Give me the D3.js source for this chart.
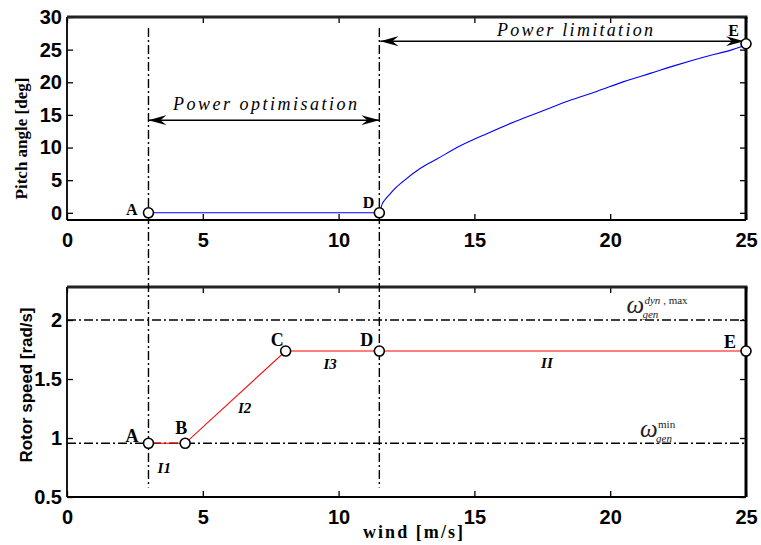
<!DOCTYPE html>
<html>
<head>
<meta charset="utf-8">
<script src="https://cdn.jsdelivr.net/npm/d3@7"></script>
<style>
  body { margin: 0; background: #fff; }
  .tick text { font-family: "Liberation Sans", Arial, sans-serif; font-weight: bold; font-size: 20px; fill: #000; }
</style>
</head>
<body>
<div id="chart"></div>
<script>
// ---- data ----
const windTicks = [0, 5, 10, 15, 20, 25];
const pitchTicks = [0, 5, 10, 15, 20, 25, 30];
const rotorTicks = [0.5, 1, 1.5, 2];

const pitchWind = [3, 11.5, 11.6, 11.75, 11.9, 12.0, 12.4, 13, 13.6, 14.5, 15.5, 16.5, 17.5, 18.5, 19.5, 20.5, 21.5, 22.5, 23.5, 24.5, 25];
const pitchAngle = [0, 0, 1.3, 2.2, 2.9, 3.4, 4.9, 6.8, 8.2, 10.3, 12.2, 14.0, 15.6, 17.2, 18.6, 20.1, 21.4, 22.7, 23.9, 25.0, 25.7];

const rotorWind = [3, 4.35, 8.05, 11.5, 25];
const rotorSpeed = [0.955, 0.955, 1.737, 1.737, 1.737];

const pitchPointNames = ["A", "D", "E"];
const pitchPointWind = [3, 11.5, 25];
const pitchPointValue = [0, 0, 25.9];

const rotorPointNames = ["A", "B", "C", "D", "E"];

const omegaMin = 0.955;
const omegaMax = 2.0;
const modeBounds = [3, 11.5];

const regionNames = ["I1", "I2", "I3", "II"];
const regionWind = [3.58, 6.54, 9.69, 17.67];
const regionValue = [0.70, 1.216, 1.585, 1.597];

// ---- layout ----
const width = 761, height = 545;
const left = 67, right = 746;
const top1 = 17, bottom1 = 220;
const top2 = 287, bottom2 = 497;

const svg = d3.select("#chart").append("svg")
  .attr("width", width)
  .attr("height", height)
  .style("background", "#fff");

const defs = svg.append("defs");
defs.append("marker")
  .attr("id", "arrow")
  .attr("viewBox", "0 0 18 10")
  .attr("refX", 18).attr("refY", 5)
  .attr("markerWidth", 18).attr("markerHeight", 10)
  .attr("markerUnits", "userSpaceOnUse")
  .attr("orient", "auto-start-reverse")
  .append("path")
  .attr("d", "M0,0 L18,5 L0,10 L6,5 Z")
  .attr("fill", "#000");

const x = d3.scaleLinear().domain([0, 25]).range([left, right]);
const yPitch = d3.scaleLinear().domain([-1.1, 30]).range([bottom1, top1]);
const yRotor = d3.scaleLinear().domain([0.5, 2.28]).range([bottom2, top2]);

function panel(y, yTicks, top, bottom) {
  const g = svg.append("g");
  // ticks point inward on all four sides, labels only bottom and left
  g.append("g")
    .attr("transform", `translate(0,${bottom})`)
    .call(d3.axisBottom(x).tickValues(windTicks).tickSize(-6).tickPadding(13))
    .call((s) => s.select(".domain").remove());
  g.append("g")
    .attr("transform", `translate(0,${top})`)
    .call(d3.axisTop(x).tickValues(windTicks).tickSize(-6).tickFormat(""))
    .call((s) => s.select(".domain").remove());
  g.append("g")
    .attr("transform", `translate(${left},0)`)
    .call(d3.axisLeft(y).tickValues(yTicks).tickSize(-6).tickPadding(5).tickFormat(d3.format("~g")))
    .call((s) => s.select(".domain").remove());
  g.append("g")
    .attr("transform", `translate(${right},0)`)
    .call(d3.axisRight(y).tickValues(yTicks).tickSize(-6).tickFormat(""))
    .call((s) => s.select(".domain").remove());
  g.selectAll(".tick line").attr("stroke", "#000").attr("stroke-width", 1.3);

  // frame
  g.append("line").attr("x1", left).attr("x2", left).attr("y1", top).attr("y2", bottom)
    .attr("stroke", "#000").attr("stroke-width", 1.8);
  g.append("line").attr("x1", left).attr("x2", right).attr("y1", bottom).attr("y2", bottom)
    .attr("stroke", "#000").attr("stroke-width", 1.8);
  g.append("line").attr("x1", left).attr("x2", right + 1.5).attr("y1", top).attr("y2", top)
    .attr("stroke", "#222").attr("stroke-width", 3.2);
  g.append("line").attr("x1", right).attr("x2", right).attr("y1", top).attr("y2", bottom)
    .attr("stroke", "#000").attr("stroke-width", 3);
  return g;
}

panel(yPitch, pitchTicks, top1, bottom1);
panel(yRotor, rotorTicks, top2, bottom2);

const dashDot = "9,3,2,3";

// reference lines
svg.selectAll("line.bound")
  .data(modeBounds)
  .join("line")
  .attr("class", "bound")
  .attr("x1", (d) => x(d)).attr("x2", (d) => x(d))
  .attr("y1", yPitch(28.3)).attr("y2", yRotor(0.58))
  .attr("stroke", "#000").attr("stroke-width", 1.4)
  .attr("stroke-dasharray", dashDot);

svg.selectAll("line.limit")
  .data([omegaMin, omegaMax])
  .join("line")
  .attr("class", "limit")
  .attr("x1", left).attr("x2", right)
  .attr("y1", (d) => yRotor(d)).attr("y2", (d) => yRotor(d))
  .attr("stroke", "#000").attr("stroke-width", 1.4)
  .attr("stroke-dasharray", dashDot);

// curves
const pitchData = pitchWind.map((w, i) => ({ wind: w, value: pitchAngle[i] }));
svg.append("path")
  .datum(pitchData)
  .attr("fill", "none")
  .attr("stroke", "#0000ff")
  .attr("stroke-width", 1.1)
  .attr("d", d3.line().x((d) => x(d.wind)).y((d) => yPitch(d.value)).curve(d3.curveMonotoneX));

const rotorData = rotorWind.map((w, i) => ({ wind: w, value: rotorSpeed[i], name: rotorPointNames[i] }));
svg.append("path")
  .datum(rotorData)
  .attr("fill", "none")
  .attr("stroke", "#ff0000")
  .attr("stroke-width", 1.1)
  .attr("d", d3.line().x((d) => x(d.wind)).y((d) => yRotor(d.value)));

// arrows
const arrowY1 = yPitch(14.2);
svg.append("line")
  .attr("x1", x(modeBounds[0])).attr("x2", x(modeBounds[1]))
  .attr("y1", arrowY1).attr("y2", arrowY1)
  .attr("stroke", "#000").attr("stroke-width", 1.5)
  .attr("marker-start", "url(#arrow)").attr("marker-end", "url(#arrow)");
svg.append("text")
  .attr("x", (x(modeBounds[0]) + x(modeBounds[1])) / 2 + 1)
  .attr("y", arrowY1 - 10)
  .attr("text-anchor", "middle")
  .attr("font-family", "Liberation Serif, Times New Roman, serif")
  .attr("font-style", "italic")
  .attr("font-size", "18px")
  .attr("textLength", 184)
  .attr("lengthAdjust", "spacing")
  .text("Power optimisation");

const arrowY2 = yPitch(26.3);
svg.append("line")
  .attr("x1", x(modeBounds[1]) + 1).attr("x2", x(25) - 2)
  .attr("y1", arrowY2).attr("y2", arrowY2)
  .attr("stroke", "#000").attr("stroke-width", 1.5)
  .attr("marker-start", "url(#arrow)").attr("marker-end", "url(#arrow)");
svg.append("text")
  .attr("x", 575)
  .attr("y", arrowY2 - 5)
  .attr("text-anchor", "middle")
  .attr("font-family", "Liberation Serif, Times New Roman, serif")
  .attr("font-style", "italic")
  .attr("font-size", "18px")
  .attr("textLength", 156)
  .attr("lengthAdjust", "spacing")
  .text("Power limitation");

// points
const pitchPoints = pitchPointNames.map((n, i) => ({ name: n, wind: pitchPointWind[i], value: pitchPointValue[i] }));
svg.selectAll("circle.pitch")
  .data(pitchPoints)
  .join("circle")
  .attr("class", "pitch")
  .attr("cx", (d) => x(d.wind)).attr("cy", (d) => yPitch(d.value))
  .attr("r", 5).attr("fill", "#fff").attr("stroke", "#000").attr("stroke-width", 1.6);

svg.selectAll("circle.rotor")
  .data(rotorData)
  .join("circle")
  .attr("class", "rotor")
  .attr("cx", (d) => x(d.wind)).attr("cy", (d) => yRotor(d.value))
  .attr("r", 5).attr("fill", "#fff").attr("stroke", "#000").attr("stroke-width", 1.6);

const pitchLabelOffset = { A: [-11, 2, "end"], D: [-5, -5, "end"], E: [-7, -8, "end"] };
svg.selectAll("text.pitchLabel")
  .data(pitchPoints)
  .join("text")
  .attr("class", "pitchLabel")
  .attr("x", (d) => x(d.wind) + pitchLabelOffset[d.name][0])
  .attr("y", (d) => yPitch(d.value) + pitchLabelOffset[d.name][1])
  .attr("text-anchor", (d) => pitchLabelOffset[d.name][2])
  .attr("font-family", "Liberation Serif, Times New Roman, serif")
  .attr("font-weight", "bold")
  .attr("font-size", "16px")
  .text((d) => d.name);

const rotorLabelOffset = { A: [-10, -1, "end"], B: [-4, -9, "middle"], C: [-2, -5, "end"], D: [-6, -5, "end"], E: [-10, -3, "end"] };
svg.selectAll("text.rotorLabel")
  .data(rotorData)
  .join("text")
  .attr("class", "rotorLabel")
  .attr("x", (d) => x(d.wind) + rotorLabelOffset[d.name][0])
  .attr("y", (d) => yRotor(d.value) + rotorLabelOffset[d.name][1])
  .attr("text-anchor", (d) => rotorLabelOffset[d.name][2])
  .attr("font-family", "Liberation Serif, Times New Roman, serif")
  .attr("font-weight", "bold")
  .attr("font-size", "18px")
  .text((d) => d.name);

// region labels
svg.selectAll("text.region")
  .data(regionNames.map((n, i) => ({ name: n, wind: regionWind[i], value: regionValue[i] })))
  .join("text")
  .attr("class", "region")
  .attr("x", (d) => x(d.wind))
  .attr("y", (d) => yRotor(d.value))
  .attr("text-anchor", "middle")
  .attr("font-family", "Liberation Serif, Times New Roman, serif")
  .attr("font-weight", "bold")
  .attr("font-style", "italic")
  .attr("font-size", "15px")
  .text((d) => d.name);

// omega labels
function omega(xPos, yPos, supParts) {
  svg.append("text")
    .attr("x", xPos).attr("y", yPos)
    .attr("font-family", "Liberation Serif, Times New Roman, serif")
    .attr("font-style", "italic").attr("font-size", "25px").attr("fill", "#222")
    .text("ω");
  svg.append("text")
    .attr("x", xPos + 16).attr("y", yPos + 5)
    .attr("font-family", "Liberation Serif, Times New Roman, serif")
    .attr("font-style", "italic").attr("font-size", "11px").attr("fill", "#222")
    .text("gen");
  const sup = svg.append("text")
    .attr("x", xPos + 18).attr("y", yPos - 9)
    .attr("font-family", "Liberation Serif, Times New Roman, serif")
    .attr("font-size", "11px").attr("fill", "#222");
  supParts.forEach((p) => sup.append("tspan").attr("font-style", p[1] ? "italic" : "normal").text(p[0]));
}
omega(x(20.6), yRotor(omegaMax) - 7, [["dyn", true], [" , max", false]]);
omega(x(21.1), yRotor(omegaMin) - 6, [["min", false]]);

// axis titles
svg.append("text")
  .attr("transform", `translate(27,${(top1 + bottom1) / 2 + 20}) rotate(-90)`)
  .attr("text-anchor", "middle")
  .attr("font-family", "Liberation Serif, Times New Roman, serif")
  .attr("font-weight", "bold")
  .attr("font-size", "17px")
  .text("Pitch angle [deg]");

svg.append("text")
  .attr("transform", `translate(32,${(top2 + bottom2) / 2 - 7}) rotate(-90)`)
  .attr("text-anchor", "middle")
  .attr("font-family", "Liberation Sans, Arial, sans-serif")
  .attr("font-weight", "bold")
  .attr("font-size", "17px")
  .attr("textLength", 155)
  .attr("lengthAdjust", "spacingAndGlyphs")
  .text("Rotor speed [rad/s]");

svg.append("text")
  .attr("x", 413)
  .attr("y", 538)
  .attr("text-anchor", "middle")
  .attr("font-family", "Liberation Serif, Times New Roman, serif")
  .attr("font-weight", "bold")
  .attr("font-size", "18px")
  .attr("textLength", 100)
  .attr("lengthAdjust", "spacing")
  .text("wind [m/s]");
</script>
</body>
</html>
